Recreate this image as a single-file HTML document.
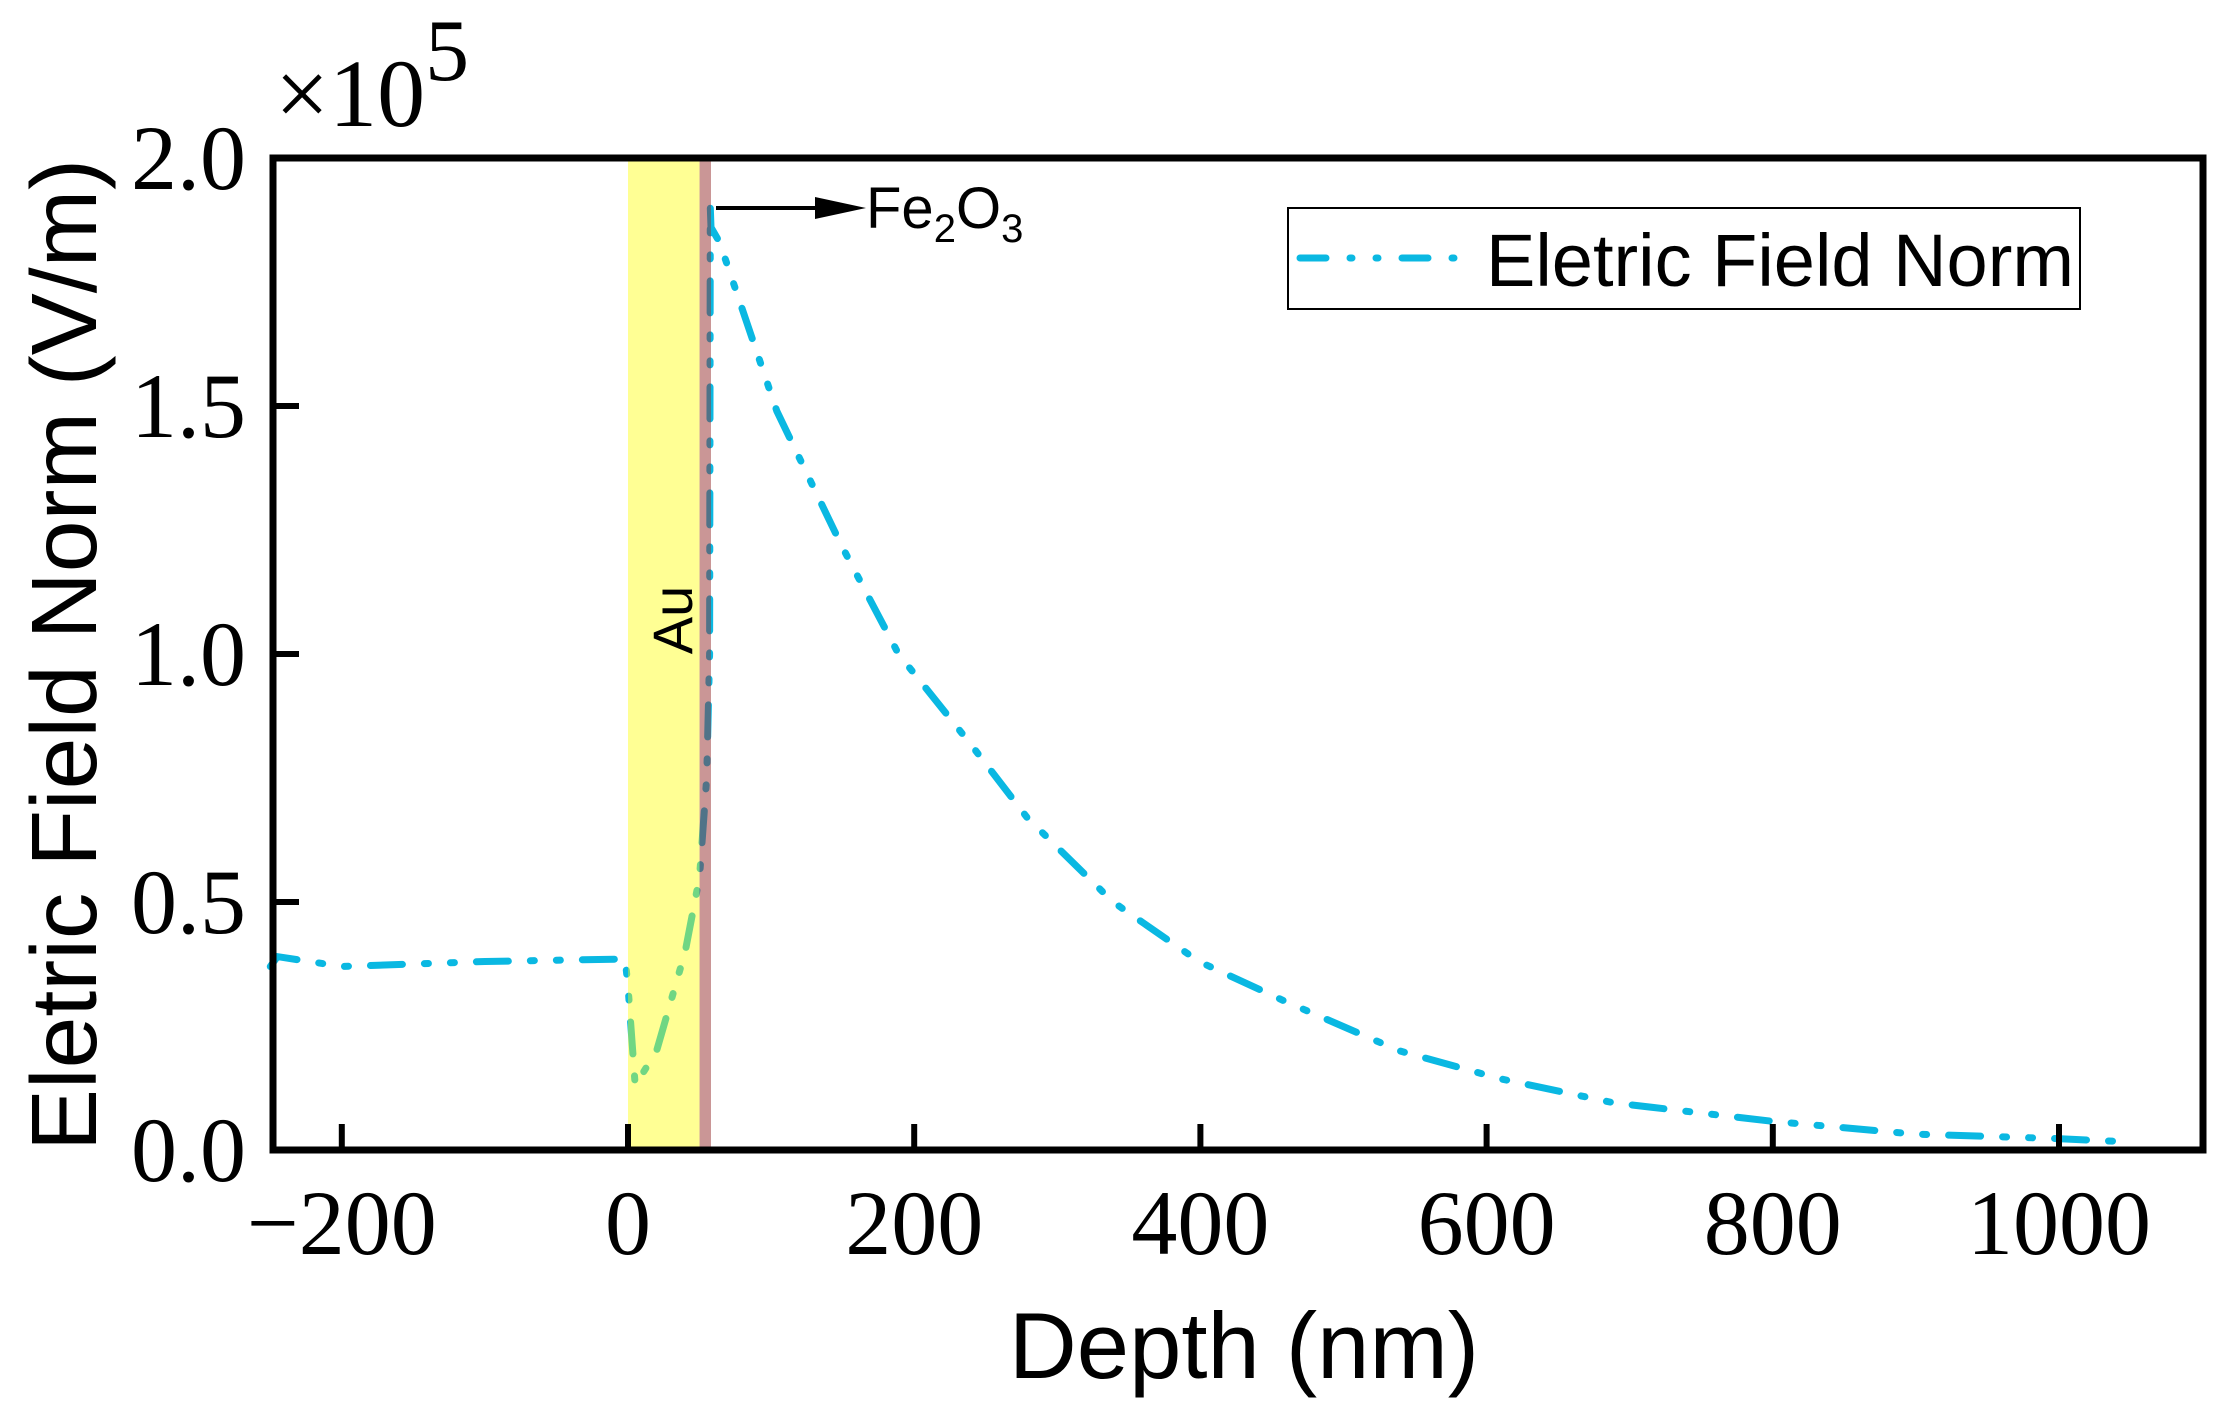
<!DOCTYPE html>
<html><head><meta charset="utf-8"><style>
html,body{margin:0;padding:0;background:#fff;}
svg{display:block;}
</style></head><body>
<svg id="chart" width="2239" height="1405" viewBox="0 0 2239 1405" xmlns="http://www.w3.org/2000/svg">
<g id="plot"></g>
</svg>
<script>
const xTicks = [-200, 0, 200, 400, 600, 800, 1000];
const yTicks = [0.0, 0.5, 1.0, 1.5, 2.0];
const depthNm = [-250,-245,-200,-100,-2,0,5,20,40,50,55,57,57.5,58,64,104,149,189,239,279,339,399,459,539,609,689,799,899,999,1044];
const fieldNorm = [0.37,0.39,0.37,0.38,0.385,0.33,0.13,0.2,0.4,0.55,0.75,1.0,1.9,1.86,1.83,1.49,1.22,1.0,0.82,0.67,0.5,0.38,0.30,0.2,0.144,0.095,0.058,0.032,0.023,0.017];
const auRange = [0, 50];
const fe2o3Range = [50, 58];

const NS = "http://www.w3.org/2000/svg";
const L = 273, R = 2203, T = 158, B = 1150;
const X = v => 628 + v * 1.431;
const Y = v => B - v * (B - T) / 2.0;
const g = document.getElementById('plot');
function el(tag, attrs, parent) {
  const e = document.createElementNS(NS, tag);
  for (const k in attrs) e.setAttribute(k, attrs[k]);
  (parent || g).appendChild(e);
  return e;
}
let d = '';
depthNm.forEach((v, i) => { d += (i ? 'L' : 'M') + X(v).toFixed(1) + ' ' + Y(fieldNorm[i]).toFixed(1); });
const curve = el('path', {d: d, fill: 'none', stroke: '#0ab8e2', 'stroke-width': 7, 'stroke-dasharray': '32 22 4 22 4 22', 'stroke-linecap': 'round'});


const au = el('rect', {x: X(auRange[0]), y: T, width: X(auRange[1]) - X(auRange[0]), height: B - T, fill: 'rgba(255,255,0,0.42)'});


const fe = el('rect', {x: X(fe2o3Range[0]), y: T, width: X(fe2o3Range[1]) - X(fe2o3Range[0]), height: B - T, fill: 'rgba(150,45,45,0.5)'});


const frame = el('rect', {x: L, y: T, width: R - L, height: B - T, fill: 'none', stroke: '#000', 'stroke-width': 7});


xTicks.forEach(v => {
  const t = el('line', {x1: X(v), x2: X(v), y1: B, y2: B - 26, stroke: '#000', 'stroke-width': 6});
  
  
  const lb = el('text', {x: X(v), y: 1254, 'text-anchor': 'middle', 'font-family': 'Liberation Serif, serif', 'font-size': 92});
  lb.textContent = v < 0 ? '\u2212' + Math.abs(v) : String(v);
  
  
});
yTicks.forEach(v => {
  const t = el('line', {x1: L, x2: L + 26, y1: Y(v), y2: Y(v), stroke: '#000', 'stroke-width': 6});
  
  
  const lb = el('text', {x: 246, y: Y(v) + 31, 'text-anchor': 'end', 'font-family': 'Liberation Serif, serif', 'font-size': 92});
  lb.textContent = v.toFixed(1);
  
  
});
</script>
<div style="position:absolute;left:0;top:0;width:2239px;height:1405px;pointer-events:none;">
<svg width="2239" height="1405" viewBox="0 0 2239 1405" xmlns="http://www.w3.org/2000/svg">
  <text x="275" y="126" font-family="Liberation Serif, serif" font-size="96">×10<tspan dy="-46" font-size="88">5</tspan></text>
  <text transform="translate(96,655) rotate(-90)" text-anchor="middle" font-family="Liberation Sans, sans-serif" font-size="93">Eletric Field Norm (V/m)</text>
  <text x="1244" y="1378" text-anchor="middle" font-family="Liberation Sans, sans-serif" font-size="94">Depth (nm)</text>
  <text transform="translate(692,620) rotate(-90)" text-anchor="middle" font-family="Liberation Sans, sans-serif" font-size="56">Au</text>
  <line x1="716" y1="208" x2="830" y2="208" stroke="#000" stroke-width="4"/>
  <polygon points="815,197 866,208 815,219" fill="#000"/>
  <text x="866" y="228" font-family="Liberation Sans, sans-serif" font-size="58">Fe<tspan dy="14" font-size="40">2</tspan><tspan dy="-14">O</tspan><tspan dy="14" font-size="40">3</tspan></text>
  <g>
    <rect x="1288" y="208" width="792" height="101" fill="#fff" stroke="#000" stroke-width="2"/>
    <line x1="1300" y1="258" x2="1460" y2="258" stroke="#0ab8e2" stroke-width="7" stroke-linecap="round" stroke-dasharray="26 24 2 24 2 24"/>
    <text x="1486" y="286" font-family="Liberation Sans, sans-serif" font-size="74">Eletric Field Norm</text>
  </g>
</svg>
</div>
</body></html>
